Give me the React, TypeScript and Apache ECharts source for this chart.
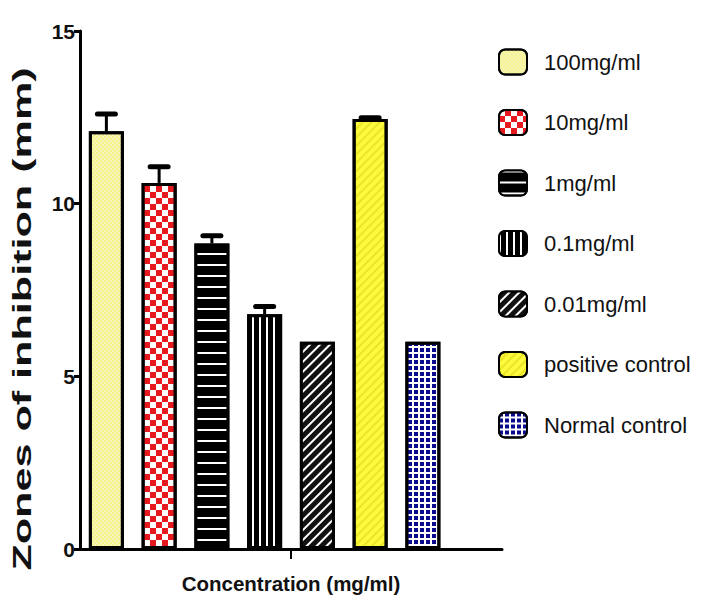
import React, { useEffect, useRef } from "react";
import * as echarts from "echarts";

const seriesNames = [
  "100mg/ml",
  "10mg/ml",
  "1mg/ml",
  "0.1mg/ml",
  "0.01mg/ml",
  "positive control",
  "Normal control",
];
const means = [12.1, 10.6, 8.85, 6.8, 6.0, 12.45, 6.0];
const errors = [0.5, 0.47, 0.22, 0.22, 0, 0.04, 0];
const yTicks = [0, 5, 10, 15];
const xTitle = "Concentration (mg/ml)";
const yTitle = "Zones of inhibition (mm)";

const fills = [
  "#f4f18f",
  "#ffffff",
  "#000000",
  "#000000",
  "#111111",
  "#fdf93c",
  "#ffffff",
];
const decals: any[] = [
  { symbol: "rect", symbolSize: 1, dashArrayX: [[2, 2], [0, 2, 2, 0]], dashArrayY: [2, 0], color: "rgba(255,255,255,0.35)" },
  { symbol: "rect", symbolSize: 1, dashArrayX: [[5.5, 5.5], [0, 5.5, 5.5, 0]], dashArrayY: [5.5, 0], color: "#e5191e" },
  { symbol: "rect", symbolSize: 1, dashArrayX: [10, 0], dashArrayY: [2, 8.3], color: "#ffffff" },
  { symbol: "rect", symbolSize: 1, dashArrayX: [1.6, 4.2], dashArrayY: [10, 0], color: "#ffffff" },
  { symbol: "rect", symbolSize: 1, dashArrayX: [10, 0], dashArrayY: [1.2, 4.8], rotation: -Math.PI / 4, color: "#ffffff" },
  { symbol: "rect", symbolSize: 1, dashArrayX: [10, 0], dashArrayY: [2, 4], rotation: -Math.PI / 4, color: "rgba(200,190,0,0.35)" },
  { symbol: "rect", symbolSize: 1, dashArrayX: [4, 1.5], dashArrayY: [4, 1.5], color: "#0a0a8c" },
];

export default function App() {
  const ref = useRef<HTMLDivElement>(null);
  useEffect(() => {
    if (!ref.current) return;
    const chart = echarts.init(ref.current, null, { renderer: "svg" });
    const cats = [...seriesNames, " "];
    const barSeries = seriesNames.map((name, i) => ({
      name,
      type: "bar",
      stack: "all",
      barWidth: 35,
      data: cats.map((_, j) => (j === i ? means[i] : "-")),
      itemStyle: {
        color: fills[i],
        borderColor: "#000",
        borderWidth: 3,
        decal: decals[i],
      },
      z: 2,
    }));
    const errData = means.map((m, i) => [i, m, errors[i]]);
    const font = "Liberation Sans, Arial, sans-serif";
    chart.setOption({
      animation: false,
      backgroundColor: "#ffffff",
      grid: { left: 80, right: 204, top: 31, bottom: 62, containLabel: false },
      legend: {
        orient: "vertical",
        left: 498,
        top: 48.5,
        padding: 0,
        itemWidth: 28,
        itemHeight: 25,
        itemGap: 33.5,
        selectedMode: false,
        data: seriesNames,
        textStyle: { fontSize: 22, fontFamily: font, color: "#111", padding: [0, 0, 0, 12] },
      },
      xAxis: [
        {
          type: "category",
          data: cats,
          axisLabel: { show: false },
          axisLine: { lineStyle: { color: "#000", width: 3 } },
          axisTick: { show: false },
          name: xTitle,
          nameLocation: "middle",
          nameGap: 24,
          nameTextStyle: { fontSize: 20.5, fontWeight: "bold", fontFamily: font, color: "#111" },
        },
        {
          type: "value",
          position: "bottom",
          min: 0,
          max: 1,
          axisLine: { show: false },
          axisLabel: { show: false },
          splitLine: { show: false },
          axisTick: { show: true, customValues: [0.5], length: 10, lineStyle: { color: "#000", width: 2 } },
        },
      ],
      yAxis: {
        type: "value",
        min: yTicks[0],
        max: yTicks[yTicks.length - 1],
        interval: 5,
        splitLine: { show: false },
        axisLine: { show: true, lineStyle: { color: "#000", width: 3 } },
        axisTick: { show: true, length: 6, lineStyle: { color: "#000", width: 3 } },
        axisLabel: { fontSize: 21, fontWeight: "bold", fontFamily: font, color: "#111", margin: 5 },
      },
      graphic: [
        {
          type: "text",
          x: 22,
          y: 319,
          rotation: Math.PI / 2,
          scaleX: 1.66,
          style: {
            text: yTitle,
            font: "bold 26px Liberation Sans, Arial, sans-serif",
            fill: "#111",
            align: "center",
            verticalAlign: "middle",
          },
        },
      ],
      series: [
        ...barSeries,
        {
          name: "err",
          type: "custom",
          z: 3,
          data: errData,
          encode: { x: 0, y: 1 },
          renderItem: (params: any, api: any) => {
            const x = api.value(0);
            const v = api.value(1);
            const e = api.value(2);
            if (!e) return null;
            const base = api.coord([x, v]);
            const top = api.coord([x, v + e]);
            return {
              type: "group",
              children: [
                { type: "line", shape: { x1: base[0], y1: base[1], x2: top[0], y2: top[1] }, style: { stroke: "#000", lineWidth: 3 } },
                { type: "line", shape: { x1: top[0] - 9, y1: top[1], x2: top[0] + 9, y2: top[1] }, style: { stroke: "#000", lineWidth: 5, lineCap: "round" } },
              ],
            };
          },
        },
      ],
    });
    return () => chart.dispose();
  }, []);
  return <div ref={ref} style={{ position: "absolute", left: 0, top: 0, width: 706, height: 611 }} />;
}
